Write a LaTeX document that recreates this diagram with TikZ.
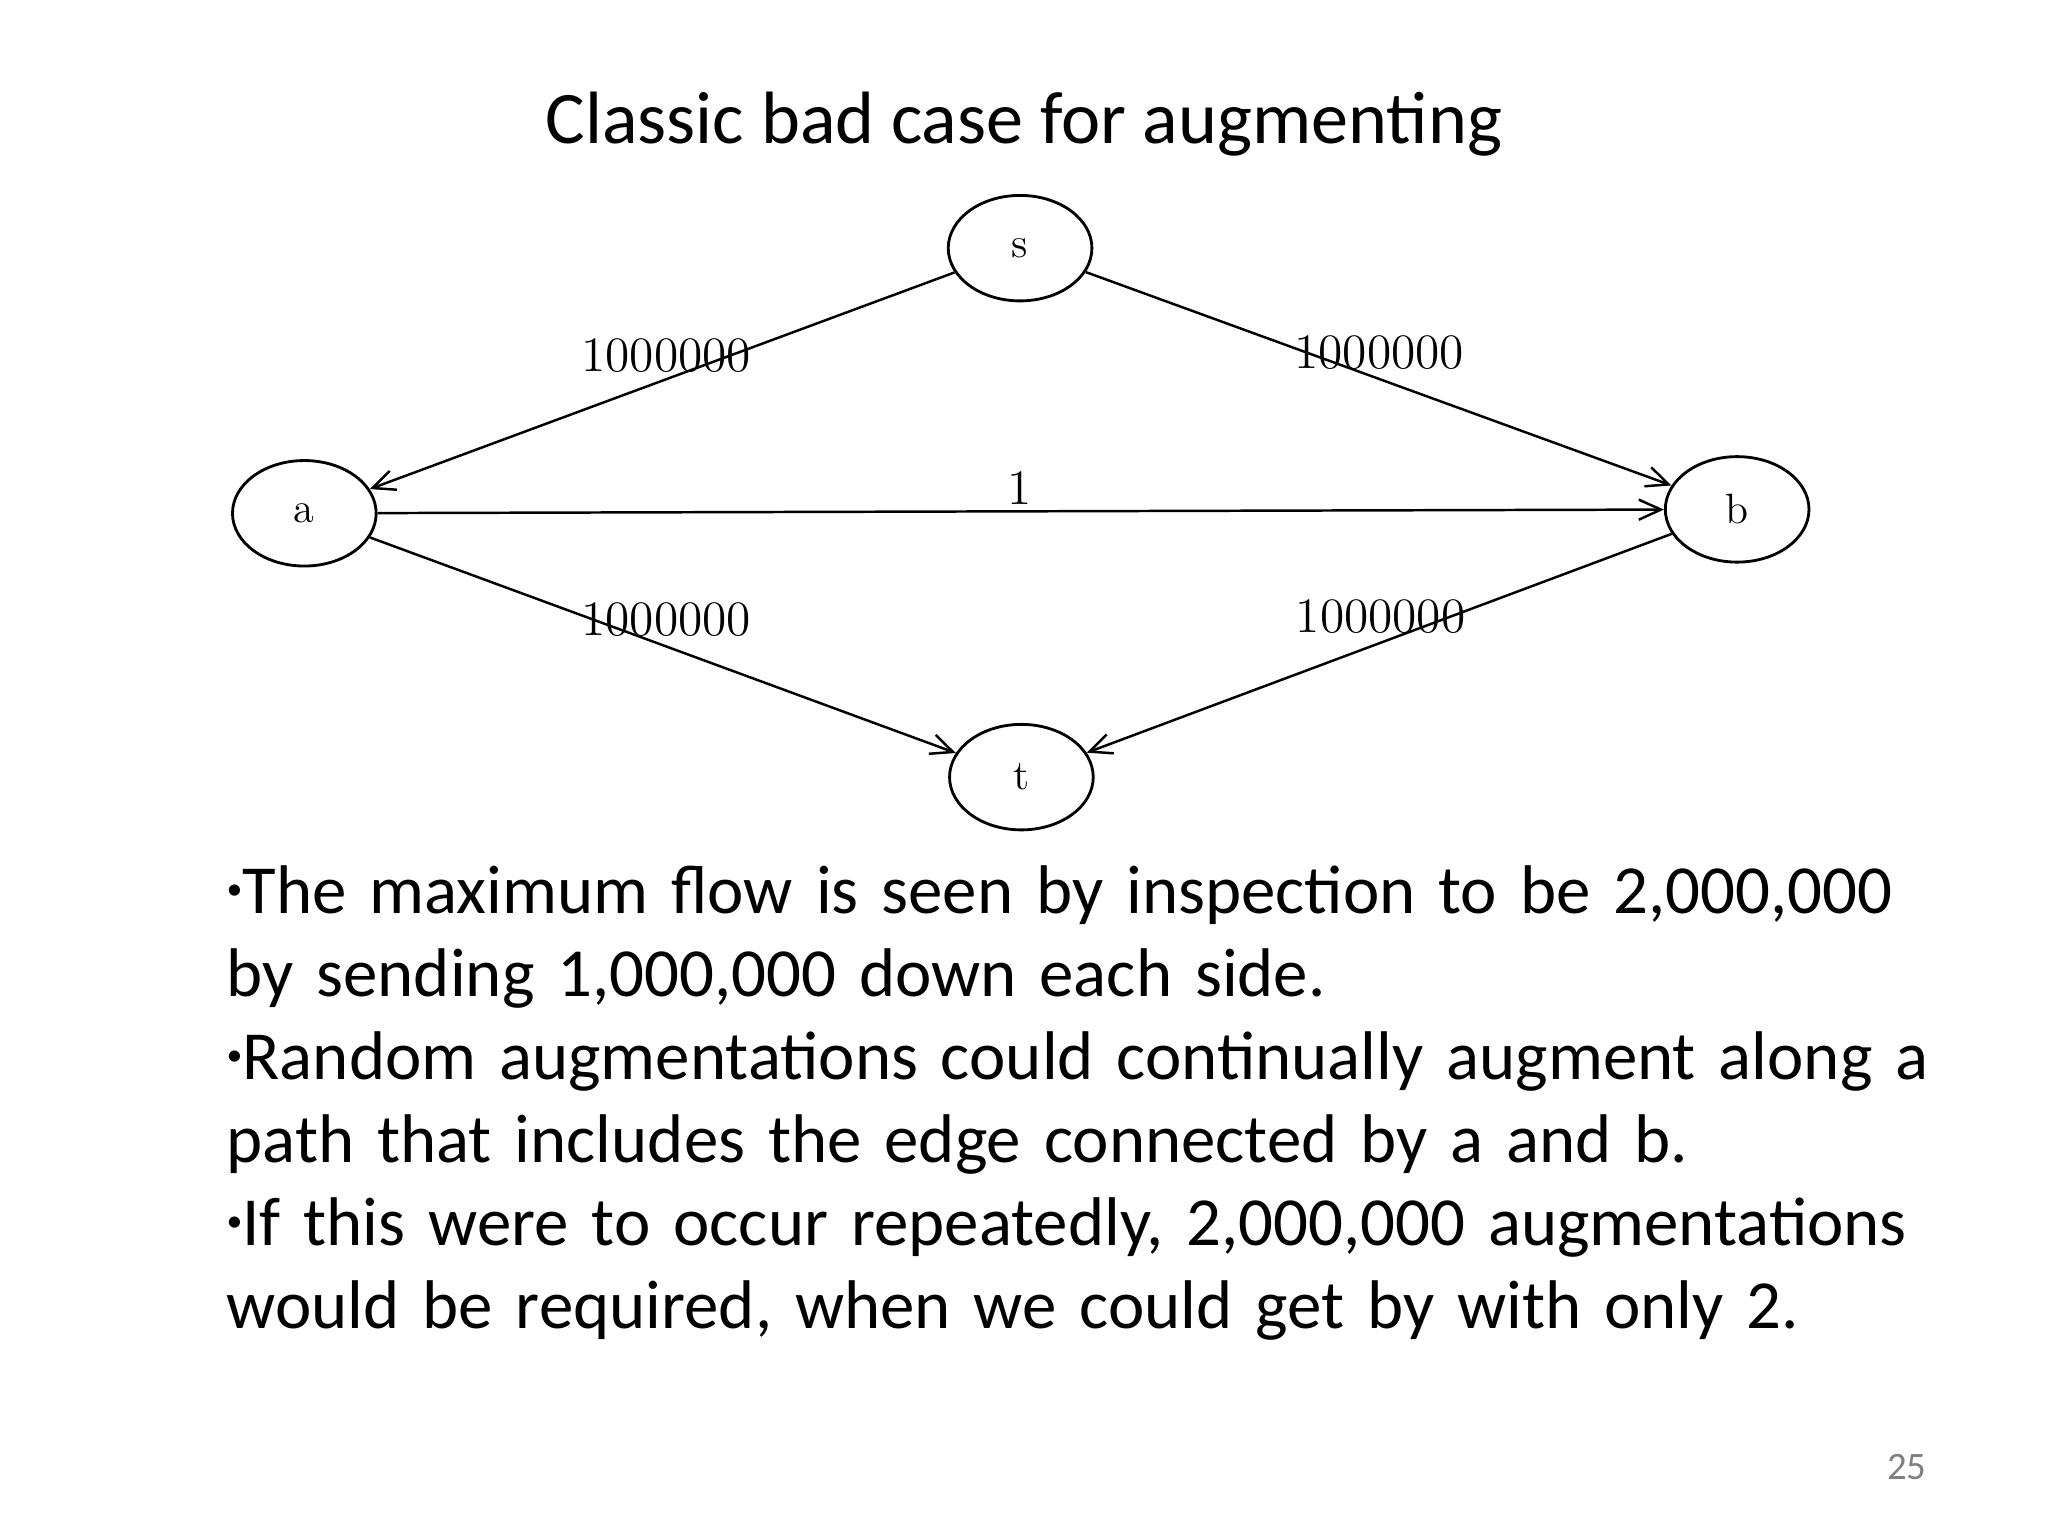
\documentclass[tikz,border=0pt]{standalone}
\usepackage{fontspec}
\setmainfont{Carlito}
\newfontfamily\lm{Latin Modern Roman}
\usetikzlibrary{arrows.meta,shapes.geometric}
\begin{document}
\begin{tikzpicture}[x=0.013cm,y=-0.013cm,
  nd/.style={draw,ellipse,minimum width=1.43cm,minimum height=1.05cm,inner sep=0pt,font=\lm\fontsize{12}{14}\selectfont,line width=0.8pt},
  ed/.style={line width=0.7pt,-{Straight Barb[length=2.2mm,width=2mm]}},
  lb/.style={font=\lm\fontsize{14}{16}\selectfont},
  body/.style={anchor=north west,align=left,inner sep=0pt,font=\fontsize{19.5}{23.5}\selectfont,text width=17.1cm}]
\useasboundingbox (0,0) rectangle (1568,1176);
\node[font=\fontsize{21}{25}\selectfont] (title) at (784,95) {Classic bad case for augmenting};
\node[nd] (s) at (781,190) {s};
\node[nd] (a) at (233,393) {a};
\node[nd] (b) at (1330,390) {b};
\node[nd] (t) at (782,595) {t};
\draw[ed] (s) -- (a);
\draw[ed] (s) -- (b);
\draw[ed] (a) -- (b);
\draw[ed] (a) -- (t);
\draw[ed] (b) -- (t);
\node[lb] (l1) at (510,272) {1000000};
\node[lb] (l2) at (1056,270) {1000000};
\node[lb] (l3) at (781,374) {1};
\node[lb] (l4) at (510,474) {1000000};
\node[lb] (l5) at (1057,472) {1000000};
\node[body] (txt) at (173,662) {\raggedright\raisebox{0.2em}{\small\textbullet}The maximum flow is seen by inspection to be 2,000,000 by sending 1,000,000 down each side.\\
\raisebox{0.2em}{\small\textbullet}Random augmentations could continually augment along a path that includes the edge connected by a and b.\\
\raisebox{0.2em}{\small\textbullet}If this were to occur repeatedly, 2,000,000 augmentations would be required, when we could get by with only 2.};
\node[text=gray,font=\fontsize{11}{13}\selectfont] (pg) at (1460,1123) {25};
\end{tikzpicture}
\end{document}
